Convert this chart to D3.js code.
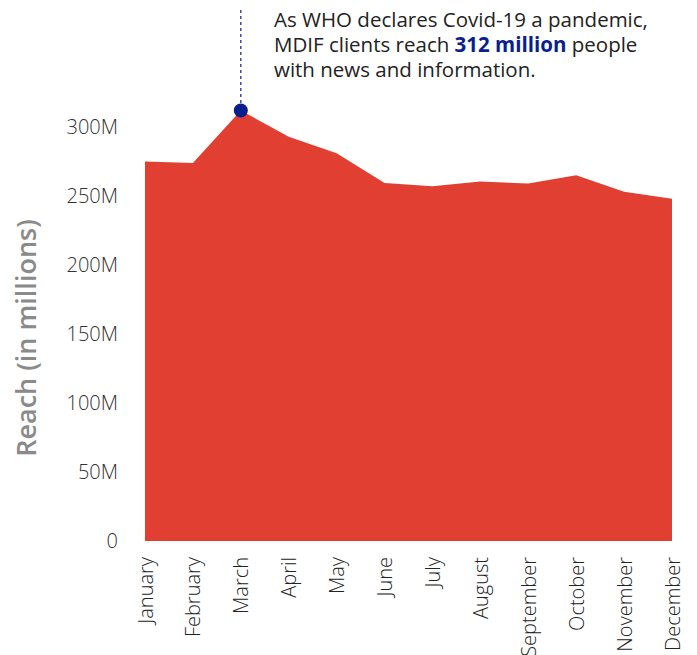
<!DOCTYPE html>
<html>
<head>
<meta charset="utf-8">
<script src="https://cdn.jsdelivr.net/npm/d3@7"></script>
<style>
  html, body { margin: 0; padding: 0; background: #fff; }
  svg { display: block; font-family: "Open Sans", sans-serif; }
</style>
</head>
<body>
<svg id="chart" width="697" height="655"></svg>
<script>
// Monthly reach of MDIF clients, in millions
const months = ["January", "February", "March", "April", "May", "June",
                "July", "August", "September", "October", "November", "December"];
const reach = [275, 274, 312, 293, 281, 259.5, 257, 260.5, 259, 265, 253, 248];
const yTicks = [0, 50, 100, 150, 200, 250, 300];
const highlightMonth = "March";

const svg = d3.select("#chart");
const margin = { left: 145, right: 25 };
const width = 697;

const x = d3.scalePoint()
  .domain(months)
  .range([margin.left, width - margin.right]);

const y = d3.scaleLinear()
  .domain([0, 300])
  .range([541, 127]);

// Filled area
const area = d3.area()
  .x((d, i) => x(months[i]))
  .y0(y(0))
  .y1(d => y(d));

svg.append("path")
  .datum(reach)
  .attr("d", area)
  .attr("fill", "#e03f31");

// Y axis (labels only)
const yAxis = d3.axisLeft(y)
  .tickValues(yTicks)
  .tickSize(0)
  .tickPadding(0)
  .tickFormat(d => d === 0 ? "0" : d + "M");

const gy = svg.append("g")
  .attr("transform", "translate(118,0)")
  .call(yAxis);
gy.select(".domain").remove();
gy.selectAll("text")
  .attr("font-family", "'Open Sans', sans-serif")
  .attr("font-size", 20)
  .attr("font-weight", 300)
  .attr("fill", "#333");

// Y axis title
svg.append("text")
  .attr("transform", "translate(36,338) rotate(-90)")
  .attr("text-anchor", "middle")
  .attr("font-size", 27)
  .attr("font-weight", 600)
  .attr("fill", "#8a8a8a")
  .text("Reach (in millions)");

// X axis (rotated month labels)
const xAxis = d3.axisBottom(x).tickSize(0).tickPadding(0);
const gx = svg.append("g")
  .attr("transform", "translate(0,557)")
  .call(xAxis);
gx.select(".domain").remove();
gx.selectAll("text")
  .attr("font-family", "'Open Sans', sans-serif")
  .attr("font-size", 20)
  .attr("font-weight", 300)
  .attr("fill", "#222")
  .attr("transform", "rotate(-90)")
  .attr("text-anchor", "end")
  .attr("x", 0)
  .attr("y", 0)
  .attr("dy", "0.35em");

// Highlight marker with dashed leader line
const hi = months.indexOf(highlightMonth);
const hx = x(highlightMonth), hy = y(reach[hi]);

svg.append("line")
  .attr("x1", hx).attr("x2", hx)
  .attr("y1", 10).attr("y2", hy)
  .attr("stroke", "#0a1f8f")
  .attr("stroke-width", 1.2)
  .attr("stroke-dasharray", "3,3");

svg.append("circle")
  .attr("cx", hx).attr("cy", hy)
  .attr("r", 7)
  .attr("fill", "#0a1f8f");

// Annotation: three lines, the middle one built from separate runs
const noteX = 274, noteSize = 20.5, noteColor = "#222";
function noteText(xPos, yPos, str) {
  return svg.append("text")
    .attr("x", xPos).attr("y", yPos)
    .attr("font-size", noteSize)
    .attr("fill", noteColor)
    .text(str);
}
noteText(noteX, 27, "As WHO declares Covid-19 a pandemic,");

let cursor = noteX;
const run1 = noteText(cursor, 52, "MDIF clients reach");
cursor += run1.node().getComputedTextLength() + noteSize * 0.26;
const run2 = noteText(cursor, 52, `${reach[hi]} million`)
  .attr("font-weight", "bold")
  .attr("fill", "#0a1f8f");
cursor += run2.node().getComputedTextLength() + noteSize * 0.26;
noteText(cursor, 52, "people");

noteText(noteX, 77, "with news and information.");
</script>
</body>
</html>
